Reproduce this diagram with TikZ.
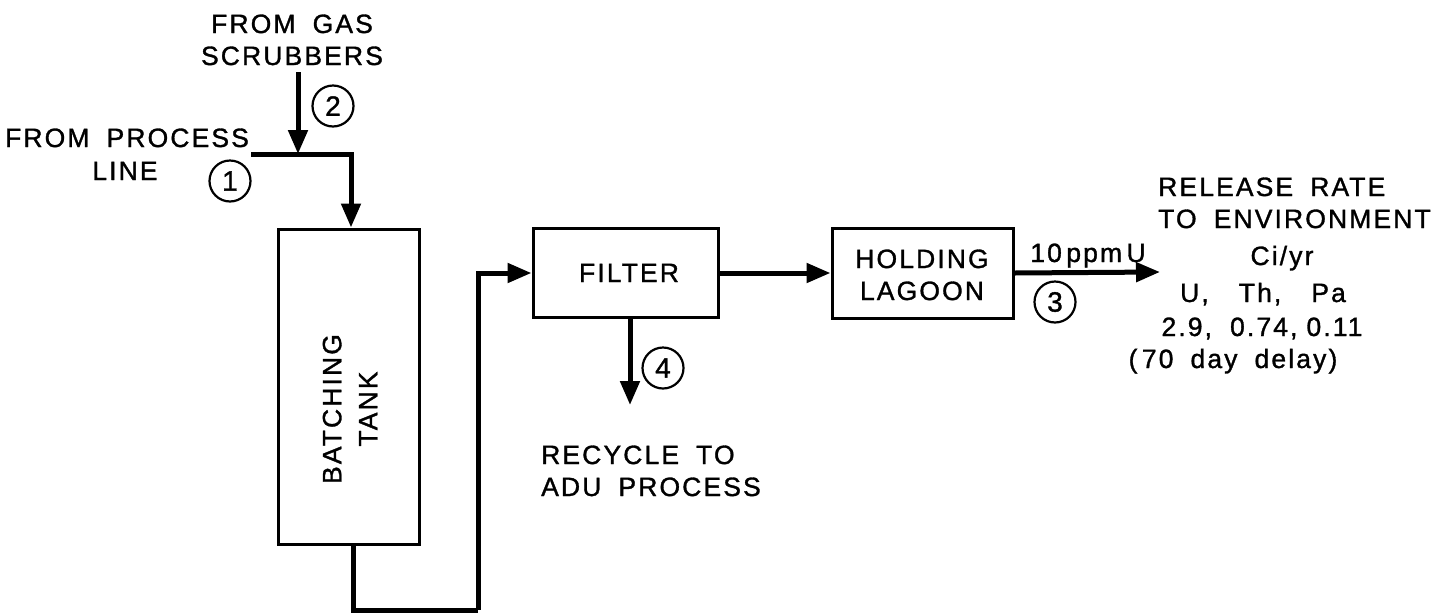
\documentclass[tikz,border=0pt]{standalone}
\usepackage{fontspec}
\setmainfont{Liberation Sans}[LetterSpace=8, WordSpace=1.8, FakeBold=1.2]
\usetikzlibrary{arrows.meta}
\tikzset{
  box/.style={draw, line width=3pt, rectangle, inner sep=0pt},
  flow/.style={line width=5pt, -{Triangle[length=24pt,width=19pt]}},
  pipe/.style={line width=5pt},
  num/.style={draw, circle, line width=2.2pt, minimum size=41pt, inner sep=0pt, font=\fontsize{28}{32}\selectfont},
  lbl/.style={inner sep=0pt, anchor=base},
  lblw/.style={inner sep=0pt, anchor=base west},
}
\begin{document}
\begin{tikzpicture}[x=1pt,y=-1pt, font=\fontsize{26.5}{32}\selectfont]
\useasboundingbox (0,0) rectangle (1435,614);
% boxes
\node[box, minimum width=141pt, minimum height=315pt] (tank) at (348.5,386.5) {};
\node[rotate=90, align=center, inner sep=0pt, font=\fontsize{26.5}{36}\selectfont] (tanklbl) at (350,409) {BATCHING\\TANK};
\node[box, minimum width=185pt, minimum height=89pt] (filter) at (625.5,273) {};
\node[lbl] (filterlbl) at (629,282) {FILTER};
\node[box, minimum width=181pt, minimum height=90pt] (lagoon) at (922.5,273) {};
\node[lbl] (lag1) at (922,268) {HOLDING};
\node[lbl] (lag2) at (922,300) {LAGOON};
% inputs
\node[lbl] (gas1) at (292,33) {FROM GAS};
\node[lbl] (gas2) at (292,65) {SCRUBBERS};
\node[lbl] (proc1) at (127,147) {FROM PROCESS};
\node[lbl] (proc2) at (125,180) {LINE};
\coordinate (pl) at (251,154);
\coordinate (gs) at (298,72);
\draw[flow] (pl) -| ([xshift=2.5pt]tank.north);
\draw[flow] (gs) -- (gs |- pl);
\node[num] (n1) at (230,181) {1};
\node[num] (n2) at (333,106) {2};
% tank to filter
\coordinate (c1) at (478,610);
\draw[pipe] ([xshift=4.5pt]tank.south) |- (c1);
\draw[flow] (c1) |- (filter.west);
% filter to lagoon
\draw[flow] (filter.east) -- (lagoon.west);
% filter down
\coordinate (rec) at (630,405);
\draw[flow] ([xshift=4.5pt]filter.south) -- (rec);
\node[num] (n4) at (663,368) {4};
\node[lblw] (rec1) at (541,464) {RECYCLE TO};
\node[lblw] (rec2) at (541,496) {ADU PROCESS};
% lagoon out
\coordinate (out) at (1160,272);
\draw[flow] (lagoon.east) -- (out);
\node[lbl] (ppm) at (1088,262) {10\,ppm\,U};
\node[num] (n3) at (1055,302) {3};
% release text
\node[lblw] (r1) at (1158,196) {RELEASE RATE};
\node[lblw] (r2) at (1158,228) {TO ENVIRONMENT};
\node[lbl] (r3) at (1282,265) {Ci/yr};
\node[lbl] (r4) at (1263,302) {U,\hspace{30pt}Th,\hspace{30pt}Pa};
\node[lbl] (r5) at (1262,336) {2.9,\hspace{18pt}0.74,\hspace{9pt}0.11};
\node[lbl] (r6) at (1233,368) {(\,70 day delay)};
\end{tikzpicture}
\end{document}
